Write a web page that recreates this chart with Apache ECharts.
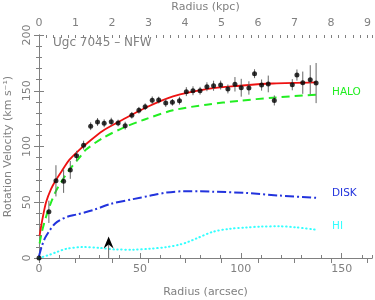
<!DOCTYPE html>
<html><head><meta charset="utf-8">
<script src="https://cdn.jsdelivr.net/npm/echarts@6/dist/echarts.min.js"></script>
<style>html,body{margin:0;padding:0;background:#fff}#c{width:375px;height:300px}</style>
</head><body><div id="c"></div>
<script>
// Observed rotation curve (arcsec, km/s, error)
const radiusArcsec = [0,4.9,8.4,12.2,15.5,18.6,22.1,25.6,29.0,32.3,35.8,39.2,42.7,46.0,49.5,52.6,56.1,59.3,62.8,66.1,69.6,73.0,76.3,79.8,83.2,86.5,90.0,93.6,97.1,100.2,104.0,106.8,110.3,113.6,116.6,125.5,127.8,130.7,134.4,137.3];
const velocity = [0,41.4,69.2,68.9,79.0,91.6,101.2,118.2,122.0,120.8,122.3,121.1,118.7,128.0,132.5,135.7,141.4,141.7,139.0,139.6,141.1,149.2,150.0,150.0,153.6,154.5,155.1,151.6,155.8,152.7,152.5,165.3,155.1,156.1,141.3,155.4,164.1,157.2,159.9,156.9];
const velErr = [0,10,14,10.5,8,4.5,4,3.5,3.5,3.5,3.5,3,3.5,3,3,3,3.5,3,3.5,3,3.5,4,4,3.5,4,4.5,4,4,6.5,8,6,4,5,7.5,4.5,5,5,10,13,18];

// Model curves [radius arcsec, velocity]
const totalCurve = [[0.3,20],[1.5,33],[3.5,50],[6,62],[8.4,70],[12,80],[15,88],[20,97],[23.2,102],[31.5,114],[41.4,124],[53,135],[66.4,145],[83,151.5],[99.4,154.5],[115.9,156.5],[137.3,157.5]];
const haloCurve = [[0.3,13],[1.5,24],[3.5,37],[6,50],[8.4,60],[12,71],[15,79],[20,90],[23.2,97],[31.5,107.5],[41.4,116.5],[52,124],[66.4,132.5],[83,137.5],[99.4,141],[115.9,143.8],[137.3,146.5]];
const diskCurve = [[0,1.5],[1.3,10],[3,18],[5.4,25],[8,31],[10.4,34],[14,37],[18.6,39],[26.9,43],[35.5,48.5],[46.6,52.8],[54.9,55.8],[63.2,58.7],[71.4,59.8],[79.6,59.8],[86.2,59.5],[102.7,58.3],[119.2,56],[137.3,54]];
const hiCurve = [[0,0],[5.4,3],[9,5.5],[13.7,8.3],[21.9,9.8],[30.2,9],[38.4,7.6],[46.6,7.5],[54.9,8.3],[63.2,9.8],[69.7,12],[74,14.5],[78,17.5],[86.2,23.5],[94.5,26.2],[102.7,27.4],[110,28.2],[119.2,28.4],[127.4,27.5],[137.3,25.3]];

// Arrow marker [radius arcsec, tip velocity]
const arrowMark = [[34.5, 19.3]];

// Axis extents and ticks
const xMaxArcsec = 165;
const xMaxKpc = 9.12;
const yMax = 200;

const gray = '#808080';
const font = 'DejaVu Sans';

const chart = echarts.init(document.getElementById('c'));

const mainX = (o) => Object.assign({
  type: 'value', min: 0, splitLine: {show: false},
  axisLine: {show: true, lineStyle: {color: gray, width: 1}},
  axisTick: {show: true, inside: true, length: 5, lineStyle: {color: gray}},
  nameTextStyle: {color: gray, fontSize: 11, fontFamily: font},
  nameLocation: 'middle'
}, o);
const minorX = (o) => Object.assign({
  type: 'value', min: 0, splitLine: {show: false},
  axisLine: {show: false},
  axisTick: {show: true, inside: true, length: 3, lineStyle: {color: gray}},
  axisLabel: {show: false}
}, o);

const option = {
  animation: false,
  backgroundColor: '#fff',
  grid: {left: 39, right: 3, top: 35, bottom: 42, containLabel: false, outerBoundsMode: 'none'},
  xAxis: [
    mainX({position: 'bottom', max: xMaxArcsec, interval: 50, name: 'Radius (arcsec)', nameGap: 29,
      axisLabel: {color: gray, fontSize: 11, fontFamily: font, showMaxLabel: false, margin: 6}}),
    mainX({position: 'top', max: xMaxKpc, interval: 1, name: 'Radius (kpc)', nameGap: 16,
      axisLabel: {color: gray, fontSize: 11, fontFamily: font, showMaxLabel: false, margin: 6}}),
    minorX({position: 'bottom', max: xMaxArcsec, interval: 10}),
    minorX({position: 'top', max: xMaxKpc, interval: 0.2})
  ],
  yAxis: [
    {type: 'value', position: 'left', min: 0, max: yMax, interval: 50, splitLine: {show: false},
     axisLine: {show: true, lineStyle: {color: gray}},
     axisTick: {show: true, inside: true, length: 5, lineStyle: {color: gray}},
     minorTick: {show: true, splitNumber: 5, length: 3, lineStyle: {color: gray}},
     axisLabel: {color: gray, fontSize: 11, fontFamily: font, rotate: 90, margin: 6},
     name: 'Rotation Velocity (km s⁻¹)', nameLocation: 'middle', nameGap: 18,
     nameTextStyle: {color: gray, fontSize: 11, fontFamily: font}
    },
    {type: 'value', position: 'right', min: 0, max: yMax, interval: 50, splitLine: {show: false},
     axisLine: {show: true, lineStyle: {color: gray}},
     axisTick: {show: true, inside: true, length: 5, lineStyle: {color: gray}},
     minorTick: {show: true, splitNumber: 5, length: 3, lineStyle: {color: gray}},
     axisLabel: {show: false}
    }
  ],
  series: [
    {type: 'line', data: hiCurve, showSymbol: false, smooth: 0.3, z: 2,
     lineStyle: {color: '#33ffff', width: 2, type: [0.5, 3.5], cap: 'round'}},
    {type: 'line', data: diskCurve, showSymbol: false, smooth: 0.3, z: 2,
     lineStyle: {color: '#2233dd', width: 2, type: [9, 3, 2, 3]}},
    {type: 'line', data: haloCurve, showSymbol: false, smooth: 0.3, z: 2,
     lineStyle: {color: '#22ee22', width: 2, type: [8, 5]}},
    {type: 'line', data: totalCurve, showSymbol: false, smooth: 0.3, z: 3,
     lineStyle: {color: '#ee1111', width: 1.8}},
    {type: 'custom', z: 4,
     data: radiusArcsec.map((r, i) => [r, velocity[i], velErr[i]]),
     renderItem: function (params, api) {
       const x = api.value(0), v = api.value(1), e = api.value(2);
       const p1 = api.coord([x, v - e]), p2 = api.coord([x, v + e]);
       return {type: 'line', shape: {x1: p1[0], y1: p1[1], x2: p2[0], y2: p2[1]},
               style: {stroke: '#666', lineWidth: 1}};
     }},
    {type: 'scatter', z: 5, symbol: 'circle', symbolSize: 5,
     data: radiusArcsec.map((r, i) => [r, velocity[i]]),
     itemStyle: {color: '#000'}},
    {type: 'custom', z: 6, data: arrowMark,
     renderItem: function (params, api) {
       const tip = api.coord([api.value(0), api.value(1)]);
       const base = api.coord([api.value(0), 0]);
       return {type: 'group', children: [
         {type: 'line', shape: {x1: base[0], y1: base[1], x2: tip[0], y2: tip[1] + 8}, style: {stroke: '#666', lineWidth: 1}},
         {type: 'polygon', shape: {points: [[tip[0], tip[1]], [tip[0] - 5, tip[1] + 12], [tip[0], tip[1] + 8], [tip[0] + 5, tip[1] + 12]]},
          style: {fill: '#000'}}
       ]};
     }}
  ],
  graphic: [
    {type: 'text', left: 53, top: 37, style: {text: 'Ugc 7045 – NFW', fill: gray, fontSize: 12, fontFamily: font}},
    {type: 'text', left: 332, top: 87, style: {text: 'HALO', fill: '#22ee22', fontSize: 10.5, fontFamily: font}},
    {type: 'text', left: 332, top: 188, style: {text: 'DISK', fill: '#2233dd', fontSize: 10.5, fontFamily: font}},
    {type: 'text', left: 332, top: 221, style: {text: 'HI', fill: '#33ffff', fontSize: 10.5, fontFamily: font}}
  ]
};
chart.setOption(option);
</script>
</body></html>
